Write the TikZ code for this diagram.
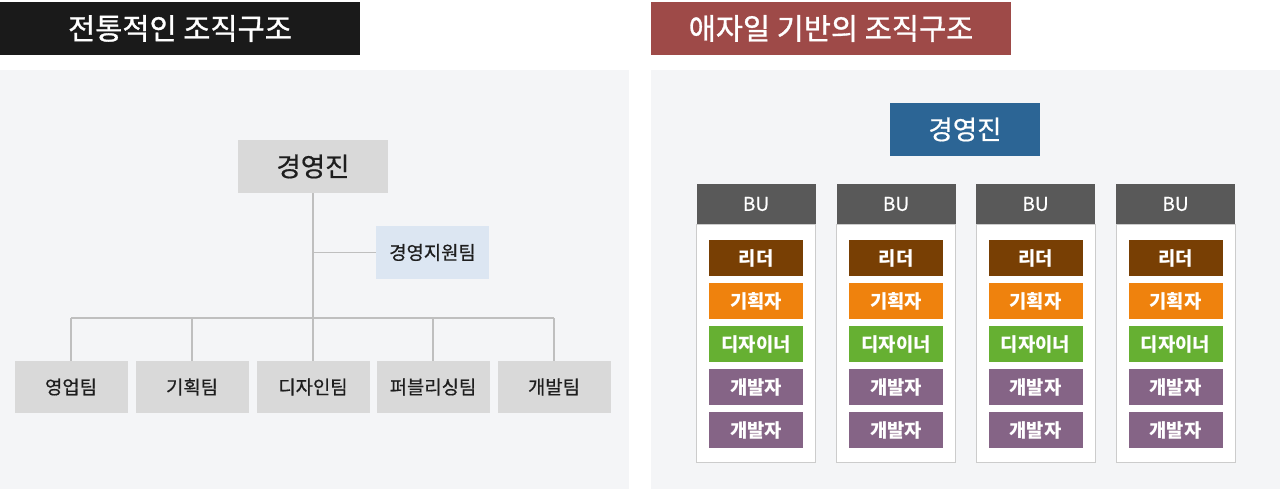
\documentclass[tikz,border=0pt]{standalone}
\usepackage{fontspec}
\setmainfont{Noto Sans CJK KR}
\newfontfamily\medfont{Noto Sans CJK KR}[FakeBold=0.6]
\newfontfamily\headfont{Noto Sans CJK KR}[FakeBold=1.0]
\definecolor{titleblack}{HTML}{1A1A1A}
\definecolor{titlered}{HTML}{9E4A48}
\definecolor{panelbg}{HTML}{F4F5F7}
\definecolor{greybox}{HTML}{D9D9D9}
\definecolor{lightblue}{HTML}{DCE6F2}
\definecolor{ceoblue}{HTML}{2C6595}
\definecolor{buhead}{HTML}{595959}
\definecolor{leadbrown}{HTML}{783F04}
\definecolor{planorange}{HTML}{EF820D}
\definecolor{desgreen}{HTML}{66B032}
\definecolor{devpurple}{HTML}{856486}
\definecolor{linegrey}{HTML}{BFBFBF}
\definecolor{txtdark}{HTML}{1E1E1E}
\definecolor{colborder}{HTML}{CCCCCC}
\begin{document}
\begin{tikzpicture}[x=1pt,y=-1pt,
  titlebox/.style={rectangle,inner sep=0pt,minimum width=360pt,minimum height=53pt,text=white,font=\headfont\fontsize{29.5}{32}\selectfont},
  greyblk/.style={rectangle,inner sep=0pt,fill=greybox,text=txtdark},
  teambox/.style={greyblk,minimum width=113pt,minimum height=52pt,font=\medfont\fontsize{18.8}{21}\selectfont},
  conn/.style={draw=linegrey,line width=1.6pt},
  buhd/.style={rectangle,inner sep=0pt,fill=buhead,minimum width=119pt,minimum height=40pt,text=white,font=\medfont\fontsize{19}{21}\selectfont},
  colbody/.style={rectangle,inner sep=0pt,fill=white,draw=colborder,line width=0.8pt,minimum width=119pt,minimum height=238pt},
  item/.style={rectangle,inner sep=0pt,minimum width=94pt,minimum height=36pt,text=white,font=\bfseries\fontsize{18.8}{21}\selectfont}
]
\useasboundingbox (0,0) rectangle (1280,489);
\fill[white] (0,0) rectangle (1280,489);
% panels
\fill[panelbg] (0,70) rectangle (629,489);
\fill[panelbg] (651,70) rectangle (1280,489);
% titles
\node[titlebox,fill=titleblack] (t1) at (180,28.5) {전통적인 조직구조};
\node[titlebox,fill=titlered] (t2) at (831,28.5) {애자일 기반의 조직구조};
% left chart
\node[greyblk,minimum width=150pt,minimum height=53pt,font=\medfont\fontsize{26.5}{29}\selectfont] (ceo) at (313,166.5) {경영진};
\node[rectangle,inner sep=0pt,fill=lightblue,text=txtdark,minimum width=113pt,minimum height=53pt,font=\medfont\fontsize{18.8}{21}\selectfont] (sup) at (432.5,252.5) {경영지원팀};
\node[teambox] (tm1) at (71,387) {영업팀};
\node[teambox] (tm2) at (192,387) {기획팀};
\node[teambox] (tm3) at (313,387) {디자인팀};
\node[teambox] (tm4) at (433,387) {퍼블리싱팀};
\node[teambox] (tm5) at (554,387) {개발팀};
\coordinate (j) at (313,318);
\draw[conn] (ceo.south) -- (tm3.north);
\draw[conn] (sup.west) -- (sup.west -| ceo.south);
\draw[conn] (tm1.north |- j) -- (tm5.north |- j);
\foreach \k in {1,2,4,5} { \draw[conn] (tm\k.north) -- (tm\k.north |- j); }
% right chart
\node[rectangle,inner sep=0pt,fill=ceoblue,text=white,minimum width=150pt,minimum height=53pt,font=\medfont\fontsize{26.5}{29}\selectfont] (ceo2) at (965,129.5) {경영진};
\foreach \i/\cx in {1/756,2/896,3/1035.5,4/1175.5} {
  \node[colbody] (col\i) at (\cx,343) {};
  \node[buhd] (bu\i) at (\cx,204) {BU};
  \node[item,fill=leadbrown] (lead\i) at (\cx,258) {리더};
  \node[item,fill=planorange] (plan\i) at (\cx,301) {기획자};
  \node[item,fill=desgreen] (des\i) at (\cx,344) {디자이너};
  \node[item,fill=devpurple] (deva\i) at (\cx,387) {개발자};
  \node[item,fill=devpurple] (devb\i) at (\cx,430) {개발자};
}
\end{tikzpicture}
\end{document}
